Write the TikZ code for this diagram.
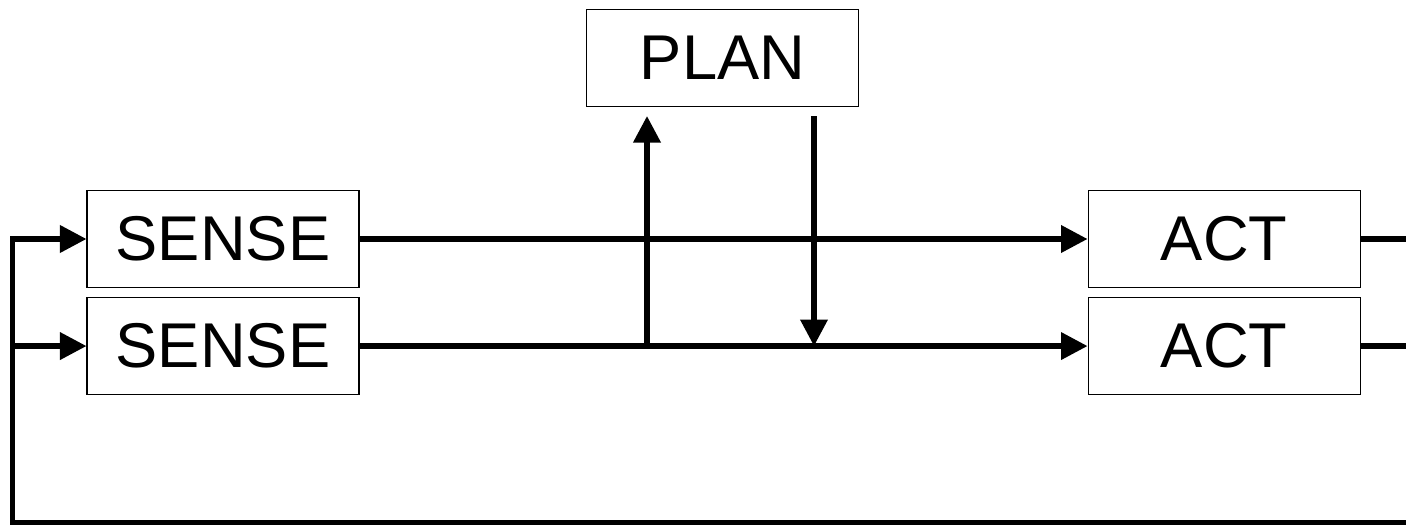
\documentclass[tikz,border=0pt]{standalone}
\usepackage{fontspec}
\setmainfont{Liberation Sans}
\usepackage{tikz}
\usetikzlibrary{arrows.meta, positioning}
\tikzstyle{block} = [rectangle, draw, line width=0.6pt, minimum width=5.44cm, minimum height=1.94cm, inner sep=0pt, font=\fontsize{36}{43}\selectfont]
\tikzstyle{wire}  = [line width=3pt]
\tikzstyle{arrow} = [wire, -{Triangle[length=0.53cm, width=0.53cm]}]

\begin{document}
\begin{tikzpicture}
    \useasboundingbox (0,0) rectangle (28.12,10.5);
    \clip (0,0) rectangle (28.12,10.5);

    \node (sense1) [block] at (4.46,5.72) {SENSE};
    \node (sense2) [block, below=0.18cm of sense1] {SENSE};
    \node (act1) [block, right=14.56cm of sense1] {ACT};
    \node (act2) [block, right=14.56cm of sense2] {ACT};
    \node (plan) [block] at (14.45,9.34) {PLAN};

    \coordinate (toplan) at ([xshift=-1.51cm, yshift=-0.18cm]plan.south);
    \coordinate (fromplan) at ([xshift=1.83cm, yshift=-0.18cm]plan.south);
    \coordinate (loopleft) at (0.25,0.05);
    \coordinate (loopright) at (28.6,0.05);

    \draw [arrow] (sense1) -- (act1);
    \draw [arrow] (sense2) -- (act2);

    \draw [arrow] (toplan |- sense2) -- (toplan);
    \draw [arrow] (fromplan) -- (fromplan |- sense2);

    \draw [wire] (act1.east) -- (act1.east -| loopright);
    \draw [wire] (act2.east) -- (act2.east -| loopright);

    \draw [arrow] (loopright) -- (loopleft) |- (sense1.west);
    \draw [arrow] (loopleft |- sense2.west) -- (sense2.west);
  \end{tikzpicture}
\end{document}
